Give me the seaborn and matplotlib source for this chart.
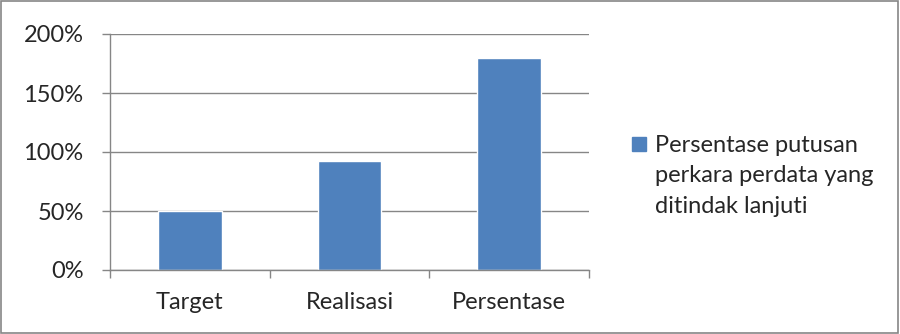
import matplotlib
matplotlib.use("Agg")
import matplotlib.pyplot as plt
import matplotlib.patches as mpatches
from matplotlib.legend_handler import HandlerPatch
import seaborn as sns
import pandas as pd
from matplotlib.ticker import FuncFormatter

categories = ["Target", "Realisasi", "Persentase"]
values = [50, 92, 180]
series_label = "Persentase putusan\nperkara perdata yang\nditindak lanjuti"
yticks = [0, 50, 100, 150, 200]

df = pd.DataFrame({"kategori": categories, "nilai": values})

sns.set_theme(style="white")
plt.rcParams["font.family"] = ["Lato", "DejaVu Sans"]

bar_c = "#4F81BD"
grid_c = "#868686"
fs = 17

fig = plt.figure(figsize=(9, 3.34), dpi=100)
ax = fig.add_axes([110 / 900, 1 - 270 / 334, 479 / 900, 236 / 334])

sns.barplot(data=df, x="kategori", y="nilai", color=bar_c, width=0.4,
            saturation=1, ax=ax)

ax.set_ylim(0, 200)
ax.set_xlim(-0.5, 2.5)
ax.set_yticks(yticks)
ax.yaxis.set_major_formatter(FuncFormatter(lambda v, p: f"{int(v)}%"))
ax.grid(axis="y", color=grid_c, linewidth=1)
ax.set_axisbelow(True)
for s in ["top", "right"]:
    ax.spines[s].set_visible(False)
for s in ["left", "bottom"]:
    ax.spines[s].set_color(grid_c)
    ax.spines[s].set_linewidth(1)

ax.set_xlabel("")
ax.set_ylabel("")
ax.tick_params(axis="y", length=6, color=grid_c, width=1, labelsize=fs,
               pad=13, left=True)
ax.tick_params(axis="x", length=0, labelsize=fs, pad=16, bottom=True)
ax.set_xticks([-0.5, 0.5, 1.5, 2.5], minor=True)
ax.tick_params(axis="x", which="minor", length=6, color=grid_c, width=1,
               bottom=True)


# small square legend marker sitting next to the first line of text
def top_square(legend, orig_handle, xdescent, ydescent, width, height, fontsize):
    s = 14 * 72 / 100
    return mpatches.Rectangle((-xdescent, -ydescent + height - s + 2), s, s)


handle = mpatches.Patch(color=bar_c)
leg = fig.legend([handle], [series_label], loc="upper left",
                 bbox_to_anchor=(632 / 900, 1 - 135 / 334), frameon=False,
                 fontsize=fs, handlelength=0.62, handleheight=4.6,
                 handletextpad=0.35, borderaxespad=0, borderpad=0,
                 handler_map={mpatches.Patch: HandlerPatch(patch_func=top_square)})
for t in leg.get_texts():
    t.set_linespacing(1.55)

fig.patches.append(mpatches.Rectangle((0.001, 0.002), 0.997, 0.995,
                                      transform=fig.transFigure, fill=False,
                                      edgecolor="#868686", linewidth=1.2))

fig.savefig("out.png", dpi=100)
